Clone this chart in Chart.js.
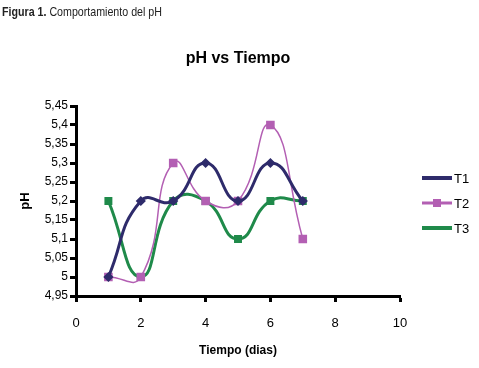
<!DOCTYPE html>
<html>
<head>
<meta charset="utf-8">
<script src="https://cdn.jsdelivr.net/npm/chart.js@4"></script>
<style>
  html, body { margin: 0; padding: 0; background: #fff; }
  #wrap { position: relative; width: 479px; height: 368px; }
</style>
</head>
<body>
<div id="wrap"><canvas id="phChart" width="479" height="368"></canvas></div>
<script>
// days of measurement
const dias = [1, 2, 3, 4, 5, 6, 7];
// pH per treatment
const t1 = [5.0, 5.2, 5.2, 5.3, 5.2, 5.3, 5.2];
const t2 = [5.0, 5.0, 5.3, 5.2, 5.2, 5.4, 5.1];
const t3 = [5.2, 5.0, 5.2, 5.2, 5.1, 5.2, 5.2];
const seriesNames = ['T1', 'T2', 'T3'];

const FONT = '"Liberation Sans", Arial, sans-serif';

function toPoints(values) {
    return dias.map((d, i) => ({ x: d, y: values[i] }));
}

// caption, title and legend drawn on the canvas
const decorations = {
    id: 'decorations',
    afterDraw(chart) {
        const ctx = chart.ctx;
        ctx.save();
        // narrow caption: squeeze horizontally
        ctx.save();
        ctx.translate(2, 0);
        ctx.scale(0.82, 1);
        ctx.fillStyle = '#222';
        ctx.textBaseline = 'middle';
        ctx.textAlign = 'left';
        ctx.font = 'bold 13px ' + FONT;
        ctx.fillText('Figura 1.', 0, 12);
        const w = ctx.measureText('Figura 1. ').width;
        ctx.font = '13px ' + FONT;
        ctx.fillText('Comportamiento del pH', w, 12);
        ctx.restore();

        ctx.textBaseline = 'middle';
        ctx.fillStyle = '#000';
        ctx.textAlign = 'center';
        ctx.font = 'bold 16px ' + FONT;
        ctx.fillText('pH vs Tiempo', 238, 59);

        // legend
        const ys = [178, 203, 228];
        chart.data.datasets.forEach((ds, i) => {
            const y = ys[i];
            ctx.strokeStyle = ds.borderColor;
            ctx.lineWidth = ds.borderWidth === 1.5 ? 3 : 4;
            ctx.beginPath();
            ctx.moveTo(422, y);
            ctx.lineTo(452, y);
            ctx.stroke();
            ctx.fillStyle = ds.backgroundColor;
            const s = i === 1 ? 8 : 4;
            ctx.fillRect(437 - s / 2, y - s / 2, s, s);
            ctx.fillStyle = '#000';
            ctx.textAlign = 'left';
            ctx.font = '13px ' + FONT;
            ctx.fillText(seriesNames[i], 454, y + 1);
        });
        ctx.restore();
    }
};

new Chart(document.getElementById('phChart'), {
    type: 'line',
    data: {
        datasets: [{
            label: seriesNames[0],
            data: toPoints(t1),
            borderColor: '#2e2b6b',
            backgroundColor: '#2e2b6b',
            borderWidth: 3,
            pointStyle: 'rectRot',
            pointRadius: 3,
            tension: 0.5
        }, {
            label: seriesNames[1],
            data: toPoints(t2),
            borderColor: '#b35fb3',
            backgroundColor: '#b35fb3',
            borderWidth: 1.5,
            pointStyle: 'rect',
            pointRadius: 5,
            tension: 0.5
        }, {
            label: seriesNames[2],
            data: toPoints(t3),
            borderColor: '#1f8a4a',
            backgroundColor: '#1f8a4a',
            borderWidth: 3,
            pointStyle: 'rect',
            pointRadius: 3.5,
            tension: 0.5
        }]
    },
    options: {
        responsive: false,
        animation: false,
        layout: { padding: { top: 106, right: 79, bottom: 0, left: 0 } },
        plugins: {
            legend: { display: false },
            title: { display: false },
            tooltip: { enabled: false }
        },
        scales: {
            x: {
                type: 'linear',
                min: 0,
                max: 10,
                afterFit(scale) { scale.height = 72; },
                ticks: { stepSize: 2, color: '#000', padding: 14, font: { family: FONT, size: 13 } },
                grid: { drawOnChartArea: false, color: '#000', tickLength: 6, tickWidth: 3 },
                border: { color: '#000', width: 3 },
                title: { display: true, text: 'Tiempo (dias)', color: '#000',
                    font: { family: FONT, size: 12, weight: 'bold' }, padding: { top: 0, bottom: 10 } }
            },
            y: {
                min: 4.95,
                max: 5.45,
                afterFit(scale) { scale.width = 76; },
                ticks: {
                    stepSize: 0.05,
                    color: '#000',
                    padding: 2,
                    font: { family: FONT, size: 12 },
                    callback: v => String(parseFloat(v.toFixed(2))).replace('.', ',')
                },
                grid: { drawOnChartArea: false, color: '#000', tickLength: 6, tickWidth: 3 },
                border: { color: '#000', width: 3 },
                title: { display: true, text: 'pH', color: '#000',
                    font: { family: FONT, size: 13, weight: 'bold' }, padding: { top: 18, bottom: 0 } }
            }
        }
    },
    plugins: [decorations]
});
</script>
</body>
</html>
